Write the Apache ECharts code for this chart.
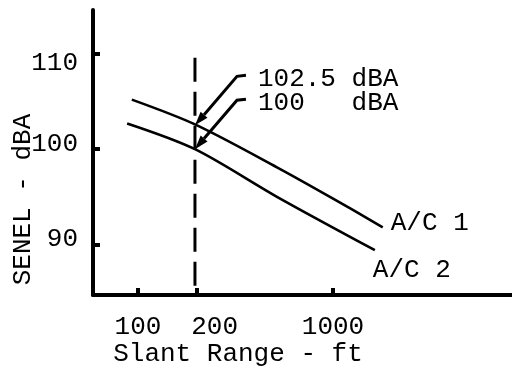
<!DOCTYPE html>
<html><head><meta charset="utf-8">
<script src="https://cdn.jsdelivr.net/npm/echarts@6/dist/echarts.min.js"></script>
<style>html,body{margin:0;padding:0;background:#fff}#c{width:512px;height:370px}</style>
</head><body><div id="c"></div>
<script>
// ---- data ----
const ac1Range = [93, 196, 516, 965, 1800];
const ac1Senel = [105.2, 102.6, 98.1, 95.0, 91.8];
const ac2Range = [88, 196, 516, 1640];
const ac2Senel = [102.7, 100.0, 95.0, 89.4];
const seriesNames = ['A/C 1', 'A/C 2'];
const xTickValues = [100, 200, 1000];
const xTickLabels = ['100', '200', '1000'];
const yTickValues = [90, 100, 110];
const xRange = [58.8, 8280];
const yRange = [84.7, 114.6];
const refRange = 196;
const refTop = 109.6;
const annotValues = [102.5, 100];
const annotLabels = ['102.5 dBA', '100   dBA'];
const xTitle = 'Slant Range - ft';
const yTitle = 'SENEL - dBA';

const FONT = '"Liberation Mono", "DejaVu Sans Mono", monospace';
const lg = Math.log10;
const toPts = (xs, ys) => xs.map((x, i) => [lg(x), ys[i]]);

const chart = echarts.init(document.getElementById('c'), null, {renderer: 'canvas'});
const txt = {color: '#000', fontFamily: FONT, fontSize: 26};

chart.setOption({
  animation: false,
  backgroundColor: '#fff',
  grid: {left: 93, right: 0, top: 10, bottom: 75, containLabel: false, outerBoundsMode: 'none'},
  xAxis: {
    type: 'value', min: lg(xRange[0]), max: lg(xRange[1]),
    name: xTitle, nameLocation: 'middle', nameGap: 46, nameMoveOverlap: false,
    nameTextStyle: Object.assign({}, txt, {padding: [0, 129, 0, 0]}),
    axisLine: {show: true, onZero: false, lineStyle: {color: '#000', width: 4}},
    axisTick: {show: true, inside: true, length: 7, lineStyle: {color: '#000', width: 4},
      customValues: xTickValues.map(lg)},
    axisLabel: Object.assign({}, txt, {margin: 19,
      customValues: xTickValues.map(lg),
      formatter: v => {
        const i = xTickValues.findIndex(t => Math.abs(lg(t) - v) < 1e-6);
        if (i < 0) return '';
        return (i === 1 ? '{r|' : '{n|') + xTickLabels[i] + '}';
      },
      rich: {n: Object.assign({}, txt), r: Object.assign({padding: [0, 0, 0, 36]}, txt)}}),
    splitLine: {show: false}
  },
  yAxis: {
    type: 'value', min: yRange[0], max: yRange[1],
    name: yTitle, nameLocation: 'middle', nameGap: 57, nameMoveOverlap: false,
    nameTextStyle: Object.assign({}, txt, {padding: [0, 94, 0, 0]}),
    axisLine: {show: true, onZero: false, lineStyle: {color: '#000', width: 4}},
    axisTick: {show: true, inside: true, length: 7, lineStyle: {color: '#000', width: 4},
      customValues: yTickValues},
    axisLabel: Object.assign({}, txt, {margin: 15, customValues: yTickValues,
      formatter: v => (v === yTickValues[2] ? '{lo|' : '{hi|') + v + '}',
      rich: {lo: Object.assign({padding: [18, 0, 0, 0]}, txt),
             hi: Object.assign({padding: [0, 0, 10, 0]}, txt)}}),
    splitLine: {show: false}
  },
  series: [
    {name: seriesNames[0], type: 'line', data: toPts(ac1Range, ac1Senel), smooth: 0.3,
      symbol: 'none', lineStyle: {color: '#000', width: 2.6},
      endLabel: Object.assign({show: true, formatter: '{a}', offset: [0, -4]}, txt)},
    {name: seriesNames[1], type: 'line', data: toPts(ac2Range, ac2Senel), smooth: 0.3,
      symbol: 'none', lineStyle: {color: '#000', width: 2.6},
      endLabel: Object.assign({show: true, formatter: '{a}', offset: [-10, 20]}, txt)},
    {name: 'ref', type: 'line', data: [[lg(refRange), refTop], [lg(refRange), yRange[0]]],
      symbol: 'none', lineStyle: {color: '#000', width: 3, type: [24, 10]}}
  ]
});

// annotation arrows pointing at the reference-range values
const g = [];
annotValues.forEach((v, i) => {
  const tip = chart.convertToPixel({gridIndex: 0}, [lg(refRange), v]);
  const tail = [tip[0] + 42, tip[1] - 49];
  const hook = [tail[0] + 9, tail[1] - 1];
  const dx = tip[0] - tail[0], dy = tip[1] - tail[1];
  const len = Math.hypot(dx, dy), ux = dx / len, uy = dy / len;
  const L = 14, W = 4.5;
  const base = [tip[0] - ux * L, tip[1] - uy * L];
  g.push({type: 'polyline', shape: {points: [hook, tail, base]},
    style: {stroke: '#000', lineWidth: 3, fill: null}, z: 10});
  g.push({type: 'polygon', shape: {points: [tip,
      [base[0] - uy * W, base[1] + ux * W], [base[0] + uy * W, base[1] - ux * W]]},
    style: {fill: '#000'}, z: 10});
  g.push({type: 'text', x: tip[0] + 63, y: tip[1] - 46,
    style: {text: annotLabels[i], fill: '#000', font: '26px ' + FONT, verticalAlign: 'middle'}, z: 10});
});
chart.setOption({graphic: g});
</script></body></html>
